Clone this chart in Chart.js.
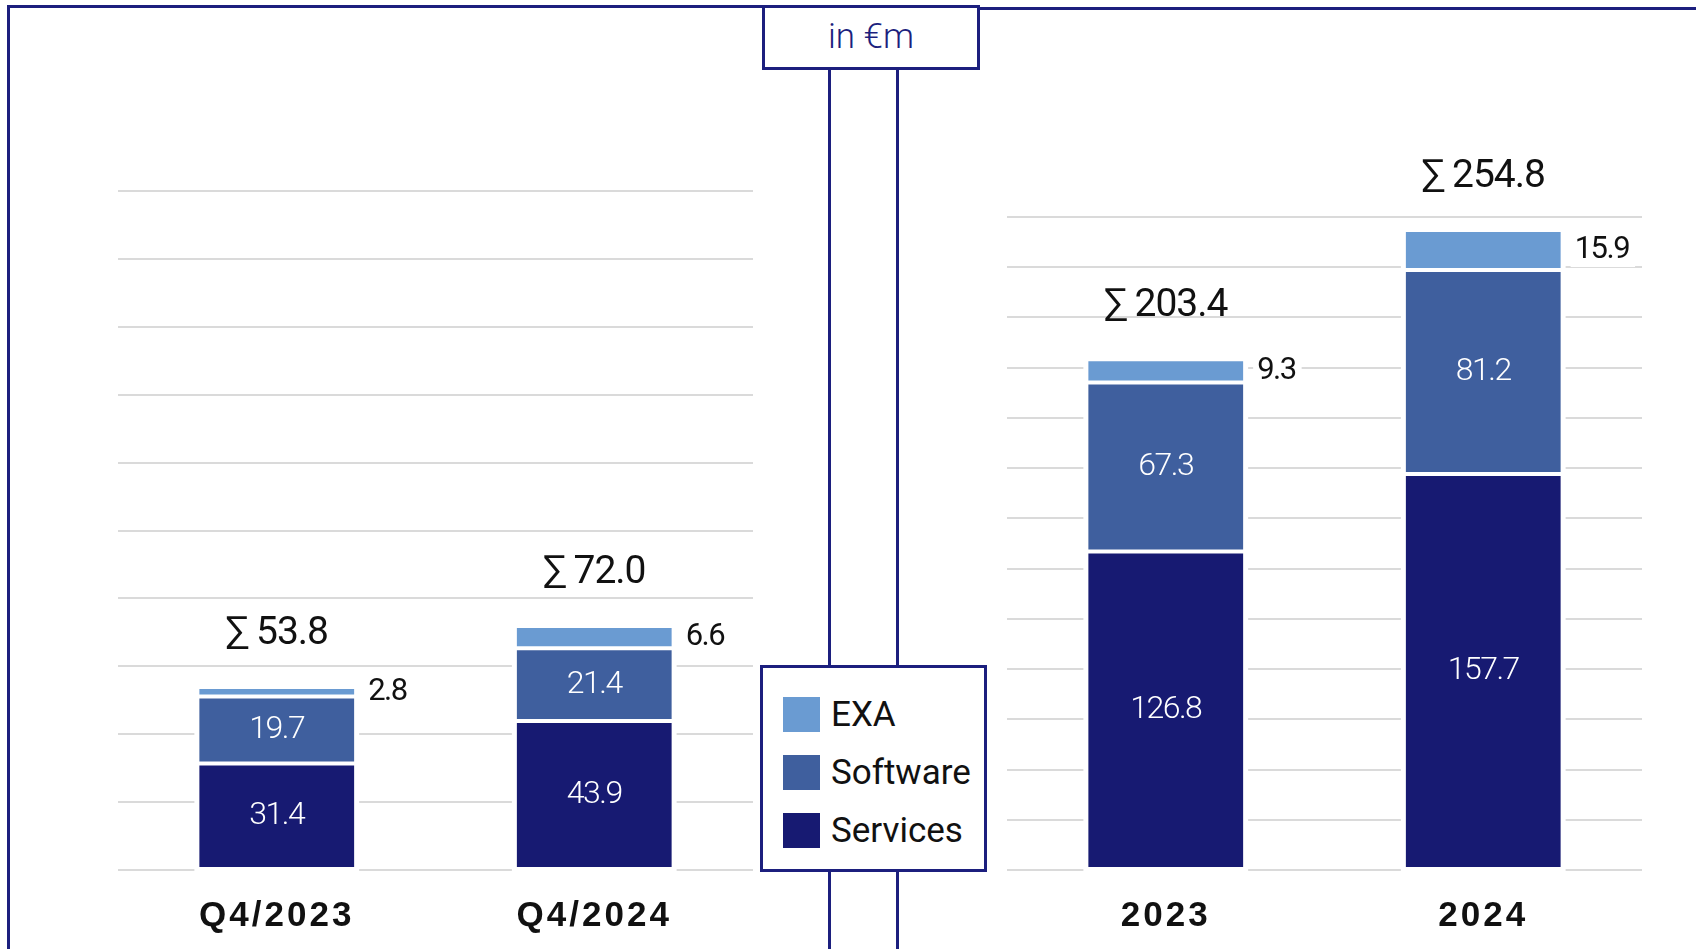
<html>
<head>
<style>
  body { margin: 0; width: 1696px; height: 949px; background: #fff; position: relative; overflow: hidden; font-family: Roboto, 'Liberation Sans', sans-serif; }
  .rule { position: absolute; background: #1c1f7e; }
  canvas { position: absolute; top: 0; }
  #unit { position: absolute; box-sizing: border-box; left: 762px; top: 5px; width: 218px; height: 65px; border: 3px solid #1c1f7e; background: #fff; color: #1c1f7e; font-size: 35px; font-weight: 300; text-align: center; line-height: 58px; }
  #legend { position: absolute; box-sizing: border-box; left: 760px; top: 665px; width: 227px; height: 207px; border: 3px solid #1c1f7e; background: #fff; }
  #legend .row { position: absolute; left: 20px; height: 35px; display: flex; align-items: center; }
  #legend .swatch { width: 37px; height: 35px; margin-right: 11px; }
  #legend .name { font-size: 35px; color: #111; }
</style>
</head>
<body>
  <div class="rule" style="left:7px; top:5px; width:3px; height:944px"></div>
  <div class="rule" style="left:7px; top:5px; width:756px; height:3px"></div>
  <div class="rule" style="left:979px; top:7px; width:717px; height:3px"></div>
  <div class="rule" style="left:828px; top:68px; width:3px; height:881px"></div>
  <div class="rule" style="left:896px; top:68px; width:3px; height:881px"></div>
  <div id="unit">in €m</div>
  <canvas id="quarterChart" width="635" height="969" style="left:118px"></canvas>
  <canvas id="yearChart" width="635" height="969" style="left:1007px"></canvas>
  <div id="legend"></div>

  <script src="https://cdn.jsdelivr.net/npm/chart.js@4.4.1/dist/chart.umd.min.js"></script>
  <script>
    // revenue by segment, in €m
    var quarterLabels = ['Q4/2023', 'Q4/2024']
    var quarterServices = [31.4, 43.9]
    var quarterSoftware = [19.7, 21.4]
    var quarterExa = [2.8, 6.6]
    var quarterTotals = [53.8, 72.0]

    var yearLabels = ['2023', '2024']
    var yearServices = [126.8, 157.7]
    var yearSoftware = [67.3, 81.2]
    var yearExa = [9.3, 15.9]
    var yearTotals = [203.4, 254.8]

    var seriesNames = ['Services', 'Software', 'EXA']
    var seriesColors = ['#171a72', '#3f5f9e', '#6a9bd2']

    // legend, top entry first
    var legend = document.getElementById('legend')
    for (var i = seriesNames.length - 1, row = 0; i >= 0; i--, row++) {
      var div = document.createElement('div')
      div.className = 'row'
      div.style.top = (29 + row * 58) + 'px'
      div.innerHTML = '<div class="swatch" style="background:' + seriesColors[i] + '"></div><span class="name">' + seriesNames[i] + '</span>'
      legend.appendChild(div)
    }

    var barLabels = {
      id: 'barLabels',
      beforeDraw: function(chart) {
        chart.ctx.letterSpacing = '3px'
      },
      beforeDatasetsDraw: function(chart) {
        var ctx = chart.ctx
        ctx.letterSpacing = '0px'
        // keep the grid lines clear of the stacks
        var bottom = chart.getDatasetMeta(0).data
        var top = chart.getDatasetMeta(2).data
        ctx.save()
        ctx.fillStyle = '#fff'
        bottom.forEach(function(bar, i) {
          var t = top[i]
          ctx.fillRect(bar.x - bar.width / 2 - 3, t.y - 3, bar.width + 6, bar.base - t.y + 6)
        })
        ctx.restore()
      },
      afterDatasetsDraw: function(chart, args, opts) {
        var ctx = chart.ctx
        var sets = chart.data.datasets
        ctx.save()
        ctx.letterSpacing = '-1.5px'
        ctx.font = '300 32px Roboto'
        ctx.textBaseline = 'middle'
        ctx.textAlign = 'center'
        ctx.fillStyle = '#fff'
        // services and software inside their segments
        for (var d = 0; d < 2; d++) {
          chart.getDatasetMeta(d).data.forEach(function(bar, i) {
            ctx.fillText(sets[d].data[i].toFixed(1), bar.x, (bar.y + bar.base) / 2)
          })
        }
        // EXA beside the top segment
        ctx.textAlign = 'left'
        ctx.font = '400 31px Roboto'
        chart.getDatasetMeta(2).data.forEach(function(bar, i) {
          var txt = sets[2].data[i].toFixed(1)
          var x = bar.x + bar.width / 2 + 12
          var y = (bar.y + bar.base) / 2
          ctx.fillStyle = '#fff'
          ctx.fillRect(x - 4, y - 17, ctx.measureText(txt).width + 10, 34)
          ctx.fillStyle = '#111'
          ctx.fillText(txt, x, y)
        })
        // totals above each stack
        ctx.textAlign = 'center'
        ctx.font = '400 39px Roboto'
        ctx.letterSpacing = '-1px'
        chart.getDatasetMeta(2).data.forEach(function(bar, i) {
          ctx.fillText('\u2211 ' + opts.totals[i].toFixed(1), bar.x, bar.y - 53)
        })
        ctx.restore()
      }
    }

    function makeChart(id, labels, services, software, exa, totals, max, padTop) {
      var values = [services, software, exa]
      return new Chart(document.getElementById(id), {
        type: 'bar',
        data: {
          labels: labels,
          datasets: values.map(function(v, i) {
            return { label: seriesNames[i], data: v, backgroundColor: seriesColors[i] }
          })
        },
        options: {
          responsive: false,
          animation: false,
          layout: { padding: { top: padTop, bottom: 15, left: 0, right: 0 } },
          datasets: {
            bar: { barPercentage: 0.5, categoryPercentage: 1, borderWidth: 2, borderColor: '#fff', borderSkipped: false }
          },
          plugins: {
            legend: { display: false },
            tooltip: { enabled: false },
            barLabels: { totals: totals }
          },
          scales: {
            x: {
              stacked: true,
              grid: { display: false },
              border: { display: false },
              ticks: { color: '#111', padding: 17, maxRotation: 0, font: { family: 'Liberation Sans', size: 35, weight: 'bold' } }
            },
            y: {
              stacked: true,
              min: 0,
              max: max,
              ticks: { display: false, stepSize: 20 },
              grid: { color: '#dadada', lineWidth: 2, drawTicks: false },
              border: { display: false }
            }
          }
        },
        plugins: [barLabels]
      })
    }

    makeChart('quarterChart', quarterLabels, quarterServices, quarterSoftware, quarterExa, quarterTotals, 200, 191)
    makeChart('yearChart', yearLabels, yearServices, yearSoftware, yearExa, yearTotals, 260, 217)
  </script>
</body>
</html>
